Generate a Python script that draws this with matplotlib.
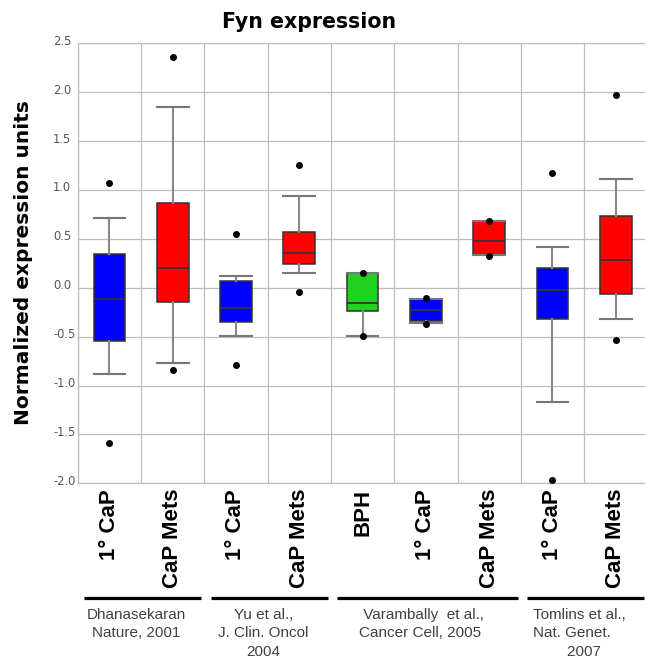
import matplotlib
matplotlib.use('Agg')
import matplotlib.pyplot as plt
import matplotlib.transforms as mtransforms
import numpy as np

# ---- data ----
categories = ['1° CaP', 'CaP Mets', '1° CaP', 'CaP Mets', 'BPH',
              '1° CaP', 'CaP Mets', '1° CaP', 'CaP Mets']
medians = [-0.11, 0.20, -0.21, 0.36, -0.16, -0.23, 0.48, -0.02, 0.28]
q1s     = [-0.54, -0.15, -0.35, 0.24, -0.24, -0.34, 0.33, -0.32, -0.06]
q3s     = [0.35, 0.87, 0.07, 0.57, 0.15, -0.11, 0.68, 0.20, 0.73]
whislos = [-0.88, -0.77, -0.49, 0.15, -0.49, -0.36, 0.33, -1.17, -0.32]
whishis = [0.71, 1.85, 0.12, 0.94, 0.15, -0.11, 0.68, 0.42, 1.11]
fliers  = [[1.07, -1.59], [2.36, -0.84], [0.55, -0.79], [1.26, -0.04],
           [0.15, -0.49], [-0.10, -0.37], [0.68, 0.32], [1.17, -1.97],
           [1.97, -0.53]]
box_colors = ['#0000ff', '#ff0000', '#0000ff', '#ff0000', '#1fd21f',
              '#0000ff', '#ff0000', '#0000ff', '#ff0000']
yticks = [-2.0, -1.5, -1.0, -0.5, 0.0, 0.5, 1.0, 1.5, 2.0, 2.5]
group_labels = ['Dhanasekaran\nNature, 2001',
                'Yu et al.,\nJ. Clin. Oncol\n2004',
                ' Varambally  et al.,\nCancer Cell, 2005',
                'Tomlins et al.,\nNat. Genet.\n        2007']
group_spans = [(0, 1), (2, 3), (4, 6), (7, 8)]
group_align = ['center', 'center', 'left', 'left']

fig = plt.figure(figsize=(6.45, 6.6), dpi=100)
ax = fig.add_axes([0.1205, 0.2677, 0.8833, 0.6667])

stats = []
for i in range(len(categories)):
    stats.append(dict(med=medians[i], q1=q1s[i], q3=q3s[i],
                      whislo=whislos[i], whishi=whishis[i],
                      fliers=fliers[i]))

bp = ax.bxp(stats, positions=range(len(categories)), widths=0.5,
            capwidths=0.5, patch_artist=True, showfliers=True,
            boxprops=dict(edgecolor='#333333', linewidth=1.1),
            medianprops=dict(color='#333333', linewidth=1.3),
            whiskerprops=dict(color='#888888', linewidth=1.5),
            capprops=dict(color='#777777', linewidth=1.5),
            flierprops=dict(marker='o', markerfacecolor='black',
                            markeredgecolor='black', markersize=4))
for patch, c in zip(bp['boxes'], box_colors):
    patch.set_facecolor(c)
    patch.set_zorder(3)
for k in ['medians', 'whiskers', 'caps', 'fliers']:
    for a in bp[k]:
        a.set_zorder(4)

ax.set_xlim(-0.5, len(categories) - 0.5)
ax.set_ylim(-2.0, 2.5)
ax.set_yticks(yticks)
ax.set_yticklabels(['%.1f' % v for v in yticks])
ax.set_xticks(range(len(categories)))
ax.set_xticklabels(categories, rotation=90, fontsize=16, fontweight='bold',
                   family='Liberation Sans', va='top')
ax.set_xticks(np.arange(-0.5, len(categories), 1.0), minor=True)
ax.set_axisbelow(True)
gridc = '#bdbdbd'
ax.grid(which='minor', axis='x', color=gridc, linewidth=0.9)
ax.grid(which='major', axis='y', color=gridc, linewidth=0.9)
ax.grid(which='major', axis='x', visible=False)
for sp in ax.spines.values():
    sp.set_color(gridc)
    sp.set_linewidth(0.9)
ax.tick_params(axis='x', which='both', length=0, pad=4)
ax.tick_params(axis='y', length=0, pad=17.6, labelsize=8.3,
               labelcolor='#555555')
off = mtransforms.ScaledTranslation(0, 3.5 / 100, fig.dpi_scale_trans)
for t in ax.get_yticklabels():
    t.set_horizontalalignment('left')
    t.set_transform(t.get_transform() + off)

fig.text(0.479, 0.967, 'Fyn expression', ha='center', va='center',
         fontsize=14.8, fontweight='bold', family='DejaVu Sans')
fig.text(24 / 645, 1 - 263 / 660, 'Normalized expression units',
         rotation=90, ha='center', va='center', fontsize=14.5,
         fontweight='bold', family='DejaVu Sans')

trans = mtransforms.blended_transform_factory(ax.transData, ax.transAxes)
for (s, e), lab, al in zip(group_spans, group_labels, group_align):
    ax.plot([s - 0.4, e + 0.45], [-0.261, -0.261], transform=trans,
            color='black', lw=2.3, clip_on=False, solid_capstyle='butt')
    ax.text((s + e) / 2 - 0.07, -0.2834, lab, transform=trans,
            ha='center', va='top', multialignment=al, fontsize=11,
            family='Liberation Sans', color='#404040', linespacing=1.4)

fig.savefig('out.png', dpi=100)
